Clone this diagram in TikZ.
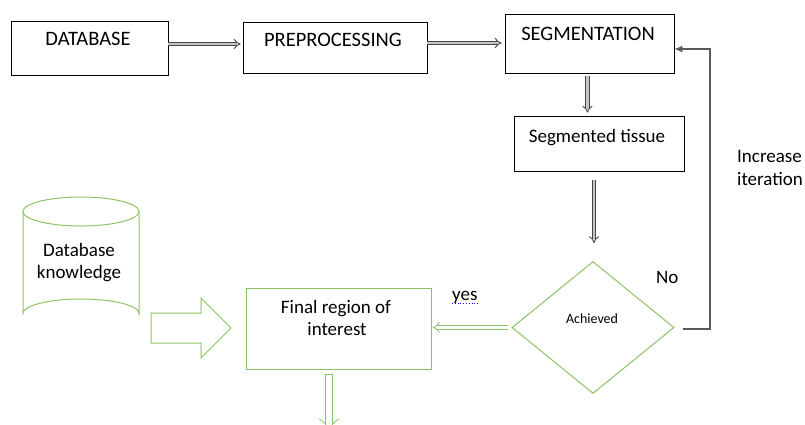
\documentclass[tikz,border=0pt]{standalone}
\usepackage{fontspec}
\setmainfont{Carlito}
\usetikzlibrary{arrows.meta,shapes.geometric}
\definecolor{grn}{RGB}{140,195,100}
\definecolor{fbgray}{RGB}{90,90,90}
\tikzset{
  box/.style={draw=black, line width=0.8pt, inner sep=0pt},
  gbox/.style={draw=grn, line width=1pt, inner sep=0pt},
  txt/.style={anchor=base, inner sep=0pt, font=\fontsize{19}{23}\selectfont},
  captxt/.style={anchor=base, inner sep=0pt, font=\fontsize{20.5}{24}\selectfont},
  dbl/.style={draw=gray!55!black, double=gray!45, double distance=2.6pt, line width=0.9pt, -{Implies}},
  gdbl/.style={draw=grn, double=white, line width=0.8pt, -{Implies}},
  fb/.style={draw=fbgray, line width=1.2pt, -{Latex[length=8pt,width=7pt]}, color=fbgray},
}
\begin{document}
\begin{tikzpicture}[x=1pt,y=-1pt]
\useasboundingbox (0,0) rectangle (805,424);
% boxes
\node[box, minimum width=157pt, minimum height=54pt] (db) at (89.5,48) {};
\node[box, minimum width=184pt, minimum height=51pt] (pre) at (335,47.5) {};
\node[box, minimum width=169pt, minimum height=59pt] (seg) at (589.5,44) {};
\node[box, minimum width=170pt, minimum height=55pt] (tis) at (599,143.5) {};
\node[gbox, minimum width=185pt, minimum height=81pt] (fin) at (338.5,328.5) {};
\node[gbox, diamond, minimum width=162pt, minimum height=132pt] (dia) at (593,327.5) {};
% texts
\node[captxt] at (88,45) {DATABASE};
\node[captxt] at (333,46.5) {PREPROCESSING};
\node[captxt] at (588,40) {SEGMENTATION};
\node[txt] at (597,142) {Segmented tissue};
\node[txt] at (336,313) {Final region of};
\node[txt] at (337,335) {interest};
\node[txt] at (79,256) {Database};
\node[txt] at (79,278) {knowledge};
\node[txt, anchor=base west] at (737,162) {Increase};
\node[txt, anchor=base west] at (737,185) {iteration};
\node[txt, anchor=base west] at (656,283) {No};
\node[txt, anchor=base west] (yes) at (452,300) {yes};
\draw[blue, dotted, line width=0.8pt] ([yshift=-3pt]yes.base west) -- ([yshift=-3pt]yes.base east);
\node[anchor=base, inner sep=0pt, font=\fontsize{14}{16}\selectfont] at (592,323) {Achieved};
% cylinder
\draw[grn, line width=1pt] (23,211.5) -- (23,313.5) arc[start angle=180, end angle=360, x radius=58, y radius=14.5] -- (139,211.5);
\draw[grn, line width=1pt] (81,211.5) ellipse[x radius=58, y radius=14.5];
% big hollow arrow
\draw[grn, line width=1pt] (151,313) -- (201,313) -- (201,298) -- (231,328) -- (201,358) -- (201,343) -- (151,343) -- cycle;
% gray double arrows
\draw[dbl, shorten >=2pt] ([yshift=4pt]db.east) -- ([yshift=4pt]db.east -| pre.west);
\draw[dbl, shorten >=3pt] ([yshift=4.5pt]pre.east) -- ([yshift=4.5pt]pre.east -| seg.west);
\draw[dbl, shorten <=2pt, shorten >=3pt] ([xshift=-2pt]seg.south) -- ([xshift=-2pt]seg.south |- tis.north);
\draw[dbl, shorten <=9pt, shorten >=18pt] ([xshift=-5pt]tis.south) -- ([xshift=-5pt]tis.south |- dia.north);
% green arrows
\draw[gdbl, double distance=3pt, shorten <=4pt, shorten >=1pt] (dia.west) -- (dia.west -| fin.east);
\coordinate (bot) at (329,432);
\draw[gdbl, double distance=6.5pt, shorten <=5pt] (fin.south -| bot) -- (bot);
\draw[grn, line width=0.8pt] ([xshift=-4pt,yshift=-5pt]fin.south -| bot) -- ([xshift=4pt,yshift=-5pt]fin.south -| bot);
% feedback
\coordinate (turn) at (710,49);
\draw[fb] ([xshift=8pt,yshift=-1.5pt]dia.east) -| (turn) -- (turn -| seg.east);
\end{tikzpicture}
\end{document}
